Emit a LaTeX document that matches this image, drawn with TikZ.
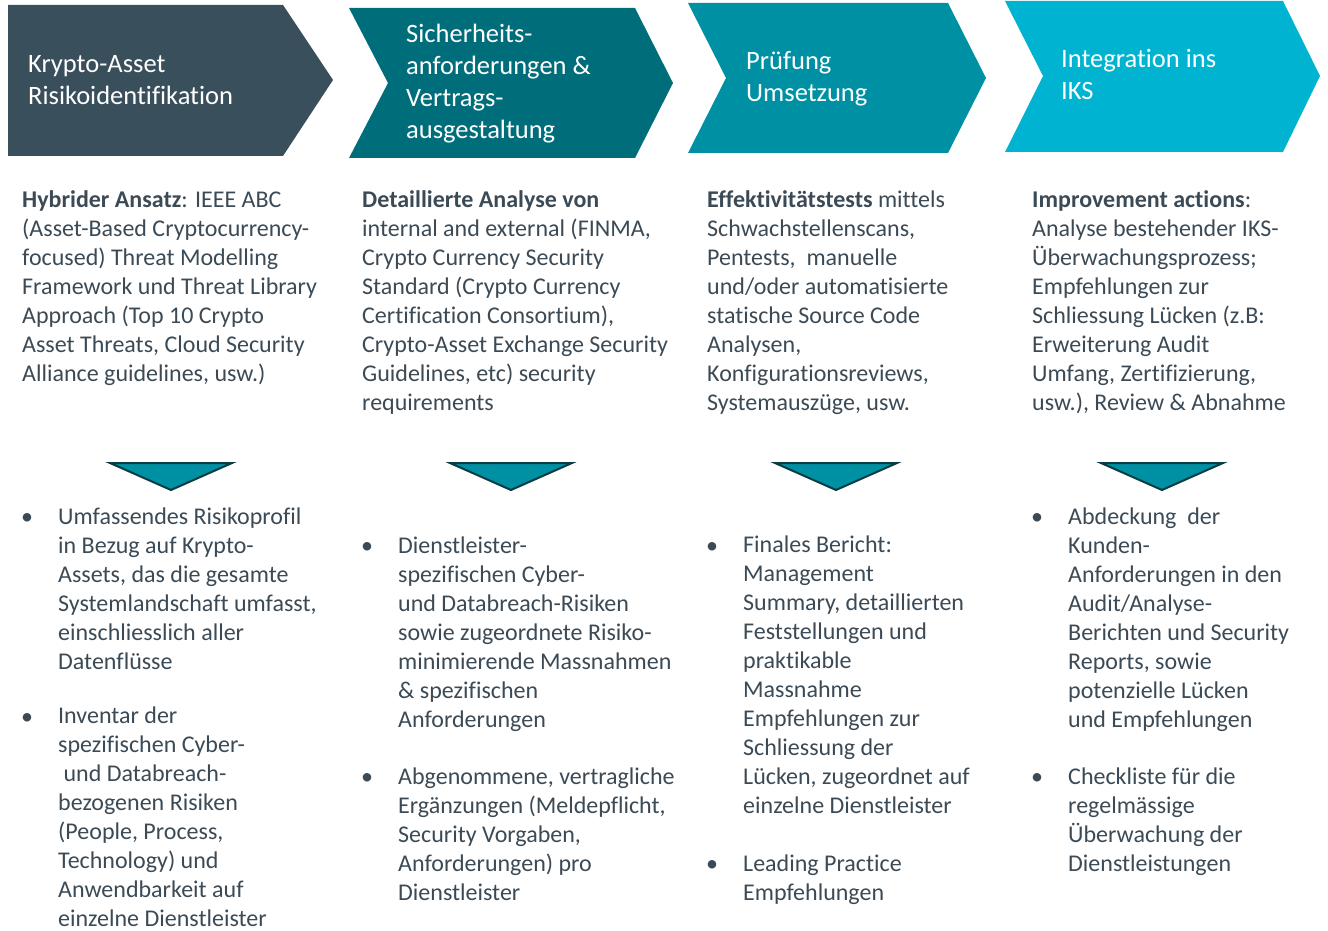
\documentclass[tikz,border=0pt]{standalone}
\usepackage{fontspec}
\setmainfont{Carlito}[Ligatures=NoCommon]
\usetikzlibrary{positioning}

\definecolor{stepA}{HTML}{3A4F5C}
\definecolor{stepB}{HTML}{006E7A}
\definecolor{stepC}{HTML}{0090A3}
\definecolor{stepD}{HTML}{00B4D1}
\definecolor{txt}{HTML}{3B4A55}
\definecolor{triline}{HTML}{0A3C44}

\begin{document}
\begin{tikzpicture}[x=1pt,y=-1pt,
    head/.style={anchor=base west,inner sep=0pt,align=left,text=white,
      font=\fontsize{26.5}{32}\selectfont},
    body/.style={anchor=base west,inner sep=0pt,align=left,text=txt,
      font=\fontsize{24}{29}\selectfont},
    dot/.style={anchor=base,inner sep=0pt,text=txt,
      font=\fontsize{24}{29}\selectfont},
    tri/.style={fill=stepC,draw=triline,line width=2pt,line join=miter}]
    \useasboundingbox (0,0) rectangle (1328,931);

    % chevrons
    \fill[stepA] (8,5) -- (283,5) -- (333,80) -- (283,156) -- (8,156) -- cycle;
    \foreach \l/\n/\r/\t/\top/\bot/\mid/\col in
      {349/388/635/673/8/158/83/stepB,
       688/726/948/986/3/153/78/stepC,
       1005/1043/1283/1320/1/152/76/stepD}
      \fill[\col] (\l,\top) -- (\r,\top) -- (\t,\mid) -- (\r,\bot)
        -- (\l,\bot) -- (\n,\mid) -- cycle;

    % titles (placed at the baseline of their last line)
    \node[head] (h1) at (28,105) {Krypto-Asset\\Risikoidentifikation};
    \node[head] (h2) at (406,139) {Sicherheits-\\anforderungen \&\\Vertrags-\\ausgestaltung};
    \node[head] (h3) at (746,102) {Prüfung\\Umsetzung};
    \node[head] (h4) at (1061,100) {Integration ins\\IKS};

    % descriptions
    \node[body] (b1) at (22,381) {\textbf{Hybrider Ansatz}: IEEE ABC\\
      (Asset-Based Cryptocurrency-\\focused) Threat Modelling\\
      Framework und Threat Library\\Approach (Top 10 Crypto\\
      Asset Threats, Cloud Security\\Alliance guidelines, usw.)};
    \node[body] (b2) at (362,410) {\textbf{Detaillierte Analyse von}\\
      internal and external (FINMA,\\Crypto Currency Security\\
      Standard (Crypto Currency\\Certification Consortium),\\
      Crypto-Asset Exchange Security\\Guidelines, etc) security\\requirements};
    \node[body] (b3) at (707,410) {\textbf{Effektivitätstests} mittels\\
      Schwachstellenscans,\\Pentests,\ \ manuelle\\und/oder automatisierte\\
      statische Source Code\\Analysen,\\Konfigurationsreviews,\\Systemauszüge, usw.};
    \node[body] (b4) at (1032,410) {\textbf{Improvement actions}:\\
      Analyse bestehender IKS-\\Überwachungsprozess;\\Empfehlungen zur\\
      Schliessung Lücken (z.B:\\Erweiterung Audit\\Umfang, Zertifizierung,\\
      usw.), Review \& Abnahme};

    % arrows down
    \foreach \x in {171,511,836,1162}
      \draw[tri] (\x-61,463) -- (\x+61,463) -- (\x,490) -- cycle;

    % results
    \node[body] (r1a) at (58,669) {Umfassendes Risikoprofil\\in Bezug auf Krypto-\\
      Assets, das die gesamte\\Systemlandschaft umfasst,\\einschliesslich aller\\Datenflüsse};
    \node[body] (r1b) at (58,926) {Inventar der\\spezifischen Cyber-\\
      \ und Databreach-\\bezogenen Risiken\\(People, Process,\\Technology) und\\
      Anwendbarkeit auf\\einzelne Dienstleister};
    \node[body] (r2a) at (398,727) {Dienstleister-\\spezifischen Cyber-\\
      und Databreach-Risiken\\sowie zugeordnete Risiko-\\minimierende Massnahmen\\
      \& spezifischen\\Anforderungen};
    \node[body] (r2b) at (398,900) {Abgenommene, vertragliche\\Ergänzungen (Meldepflicht,\\
      Security Vorgaben,\\Anforderungen) pro\\Dienstleister};
    \node[body] (r3a) at (743,813) {Finales Bericht:\\Management\\Summary, detaillierten\\
      Feststellungen und\\praktikable\\Massnahme\\Empfehlungen zur\\
      Schliessung der\\Lücken, zugeordnet auf\\einzelne Dienstleister};
    \node[body] (r3b) at (743,900) {Leading Practice\\Empfehlungen};
    \node[body] (r4a) at (1068,727) {Abdeckung\ \ der\\Kunden-\\Anforderungen in den\\
      Audit/Analyse-\\Berichten und Security\\Reports, sowie\\
      potenzielle Lücken\\und Empfehlungen};
    \node[body] (r4b) at (1068,871) {Checkliste für die\\regelmässige\\
      Überwachung der\\Dienstleistungen};

    % bullets, on the first line of each result
    \foreach \r/\x/\y in {r1a/27/524,r1b/27/724,r2a/367/553,r2b/367/784,
                          r3a/712/553,r3b/712/871,r4a/1037/524,r4b/1037/784}
      \node[dot] (d\r) at (\x,\y) {•};
\end{tikzpicture}
\end{document}
